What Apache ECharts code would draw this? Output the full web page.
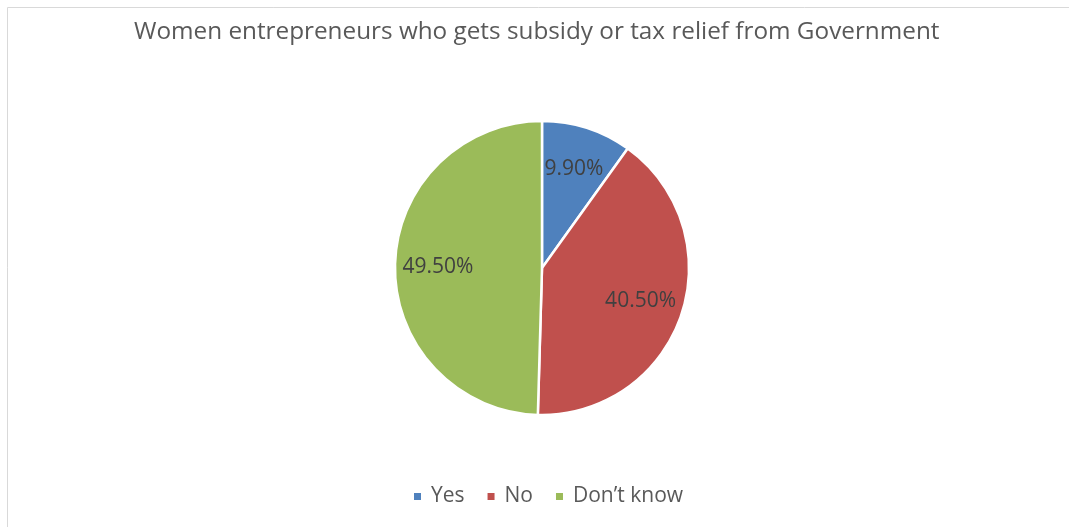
<!DOCTYPE html>
<html>
<head>
<meta charset="utf-8">
<script src="https://cdn.jsdelivr.net/npm/echarts@6/dist/echarts.min.js"></script>
<style>
  html, body { margin: 0; padding: 0; background: #fff; }
  #chart { width: 1069px; height: 527px; }
</style>
</head>
<body>
<div id="chart"></div>
<script>
const titleText = 'Women entrepreneurs who gets subsidy or tax relief from Government';
const categories = ['Yes', 'No', 'Don\u2019t know'];
const shares = [9.9, 40.5, 49.5];
const colors = ['#4f81bd', '#c0504d', '#9bbb59'];

const FONT = '"Open Sans", sans-serif';
const center = [542, 268];
const radius = 147;

const chart = echarts.init(document.getElementById('chart'), null, { renderer: 'canvas' });

chart.setOption({
  animation: false,
  color: colors,
  title: {
    text: titleText,
    left: 129,
    top: 15,
    textStyle: { fontFamily: FONT, fontSize: 24.3, fontWeight: 'normal', color: '#595959' }
  },
  legend: {
    bottom: 15,
    left: 407,
    itemWidth: 9,
    itemHeight: 9,
    itemGap: 21,
    icon: 'rect',
    textStyle: { fontFamily: FONT, fontSize: 21, color: '#595959', padding: [0, 0, 0, 4] },
    data: categories
  },
  graphic: [{
    type: 'rect',
    shape: { x: 7.5, y: 7.5, width: 1200, height: 700 },
    style: { fill: 'none', stroke: '#d9d9d9', lineWidth: 1 },
    silent: true
  }],
  series: [{
    type: 'pie',
    center: center,
    radius: [0, radius],
    startAngle: 90,
    clockwise: true,
    itemStyle: { borderColor: '#fff', borderWidth: 2.5 },
    label: {
      show: true,
      position: 'inside',
      fontFamily: FONT,
      fontSize: 21,
      color: '#404040',
      formatter: p => p.value.toFixed(2) + '%'
    },
    labelLayout: function (p) {
      const r = p.labelRect;
      const cx = r.x + r.width / 2, cy = r.y + r.height / 2;
      const k = 1.36;
      return {
        x: center[0] + (cx - center[0]) * k,
        y: center[1] + (cy - center[1]) * k,
        align: 'center',
        verticalAlign: 'middle'
      };
    },
    data: categories.map((c, i) => ({ name: c, value: shares[i] }))
  }]
});
</script>
</body>
</html>
